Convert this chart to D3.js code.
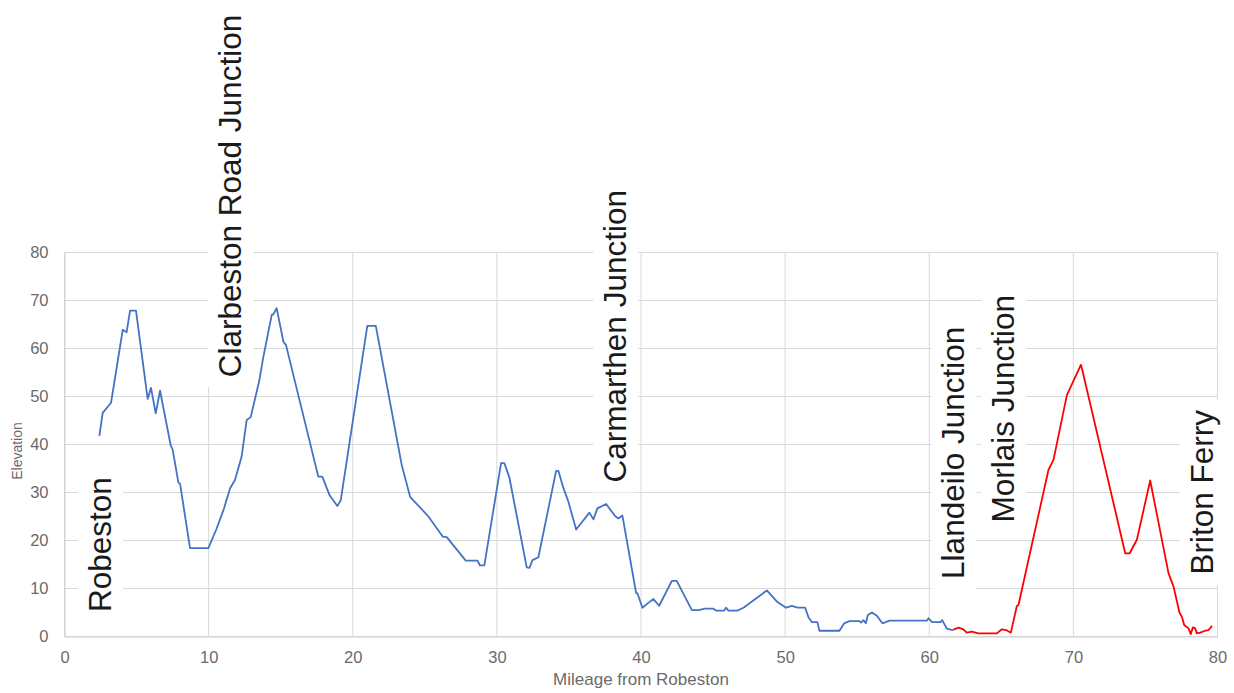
<!DOCTYPE html>
<html><head><meta charset="utf-8">
<script src="https://cdn.jsdelivr.net/npm/d3@7"></script>
<style>
html,body{margin:0;padding:0;background:#fff;}
svg{display:block;font-family:"Liberation Sans",Arial,sans-serif;}
</style></head>
<body>
<svg id="chart" width="1234" height="693"></svg>
<script>
// ---- data ----
const blueMiles = [2.42,2.65,3.23,4.04,4.31,4.55,4.96,5.77,6.0,6.33,6.63,7.37,7.5,7.9,8.02,8.71,9.98,10.56,11.07,11.49,11.83,12.29,12.64,12.92,13.52,13.8,14.38,14.49,14.72,15.19,15.37,17.61,17.89,18.38,18.93,19.17,21.01,21.6,23.4,23.98,25.25,26.25,26.52,27.84,28.65,28.83,29.13,30.29,30.52,30.87,32.07,32.26,32.47,32.88,34.11,34.27,34.62,34.96,35.5,36.42,36.7,36.97,37.58,38.2,38.43,38.71,39.66,39.75,40.1,40.51,40.86,41.26,42.14,42.48,43.53,43.98,44.45,45.02,45.21,45.77,45.9,46.07,46.69,47.11,48.73,49.42,50.07,50.46,50.88,51.39,51.62,51.85,52.24,52.38,53.77,54.1,54.46,55.16,55.27,55.44,55.6,55.74,56.02,56.37,56.75,57.24,59.83,59.95,60.2,60.78,60.9,61.22,61.6,61.68];
const blueElev  = [41.8,46.6,48.7,63.9,63.4,67.9,67.9,49.5,51.8,46.5,51.2,39.8,39.0,32.1,31.8,18.4,18.4,22.5,26.7,30.9,32.6,37.5,45.1,45.7,53.4,58.3,67.0,67.1,68.4,61.4,60.7,33.3,33.3,29.5,27.2,28.4,64.7,64.7,35.7,29.1,25.0,20.8,20.7,15.8,15.8,14.8,14.8,36.1,36.1,33.1,14.4,14.3,15.9,16.5,34.5,34.5,30.9,28.1,22.3,25.8,24.4,26.7,27.6,25.1,24.6,25.2,9.1,9.0,6.0,7.0,7.8,6.4,11.6,11.6,5.5,5.5,5.8,5.8,5.4,5.4,6.0,5.4,5.4,6.0,9.6,7.3,6.0,6.4,6.0,6.0,4.0,3.0,3.0,1.2,1.2,2.75,3.2,3.2,2.9,3.4,2.75,4.5,5.0,4.3,2.75,3.3,3.3,3.8,3.0,3.0,3.4,1.65,1.35,1.45];
const redMiles = [61.68,62.03,62.37,62.6,62.95,63.41,64.69,65.04,65.34,65.66,66.08,66.19,68.27,68.62,69.55,70.52,70.59,73.6,73.9,74.41,75.33,76.6,76.95,77.36,77.53,77.69,77.99,78.15,78.29,78.45,78.57,78.8,79.15,79.38,79.62];
const redElev  = [1.45,1.84,1.5,0.8,1.0,0.66,0.66,1.5,1.35,0.8,6.35,6.56,34.7,36.8,50.3,56.6,55.9,17.3,17.3,20.2,32.5,13.2,10.4,5.0,4.1,2.4,1.7,0.5,1.9,1.7,0.66,0.8,1.2,1.35,2.2];
const stationNames = ["Robeston","Clarbeston Road Junction","Carmarthen Junction","Llandeilo Junction","Morlais Junction","Briton Ferry"];
const stationMiles = [2.46,11.48,38.2,61.68,65.15,78.9];
const xTicks = [0,10,20,30,40,50,60,70,80];
const yTicks = [0,10,20,30,40,50,60,70,80];
const xTitle = "Mileage from Robeston";
const yTitle = "Elevation";

// ---- layout (not data) ----
const labelBaseElev = [5.1,54.0,32.1,12.0,23.75,12.9];

const svg = d3.select("#chart");
const x = d3.scaleLinear().domain([0,80]).range([64.5,1217.5]);
const y = d3.scaleLinear().domain([0,80]).range([636.5,252.5]);
const grid = "#d9d9d9";

// gridlines
svg.append("g").selectAll("line").data(yTicks).join("line")
  .attr("x1",x(0)).attr("x2",x(80)).attr("y1",d=>y(d)).attr("y2",d=>y(d))
  .attr("stroke",grid).attr("stroke-width",1);
svg.append("g").selectAll("line").data(xTicks).join("line")
  .attr("y1",y(0)).attr("y2",y(80)).attr("x1",d=>x(d)).attr("x2",d=>x(d))
  .attr("stroke",grid).attr("stroke-width",1);

// axes
const xAxis = svg.append("g").attr("transform",`translate(0,${y(0)})`)
  .call(d3.axisBottom(x).tickValues(xTicks).tickSize(0).tickPadding(15).tickFormat(d3.format("d")));
const yAxis = svg.append("g").attr("transform",`translate(${x(0)},0)`)
  .call(d3.axisLeft(y).tickValues(yTicks).tickSize(0).tickPadding(16).tickFormat(d3.format("d")));
[xAxis,yAxis].forEach(a=>{
  a.select(".domain").attr("stroke","#d0d0d0");
  a.selectAll("text").attr("fill","#6b6b6b").style("font-size","16.5px").style("font-family","Liberation Sans, Arial, sans-serif");
});

// axis titles
svg.append("text").attr("x",641).attr("y",685).attr("text-anchor","middle")
  .attr("fill","#6b6b6b").style("font-size","17px").text(xTitle);
svg.append("text").attr("transform","translate(22,451) rotate(-90)").attr("text-anchor","middle")
  .attr("fill","#6b6b6b").style("font-size","14px").text(yTitle);

// lines
const line = d3.line().x(d=>x(d[0])).y(d=>y(d[1]));
svg.append("path").datum(blueMiles.map((m,i)=>[m,blueElev[i]]))
  .attr("d",line).attr("fill","none").attr("stroke","#4472C4").attr("stroke-width",1.8).attr("stroke-linejoin","round");
svg.append("path").datum(redMiles.map((m,i)=>[m,redElev[i]]))
  .attr("d",line).attr("fill","none").attr("stroke","#FF0000").attr("stroke-width",1.8).attr("stroke-linejoin","round");

// station labels
const lg = svg.append("g");
stationNames.forEach((name,i)=>{
  const xc = x(stationMiles[i]);
  const yb = y(labelBaseElev[i]);
  const g = lg.append("g");
  const rect = g.append("rect").attr("fill","#fff");
  const t = g.append("text")
    .attr("transform",`translate(${xc+11},${yb}) rotate(-90)`)
    .attr("fill","#1a1a1a").style("font-size","31.5px").text(name);
  const len = t.node().getComputedTextLength();
  rect.attr("x",xc-22).attr("width",45).attr("y",yb-len-10).attr("height",len+20);
});
</script>
</body></html>
